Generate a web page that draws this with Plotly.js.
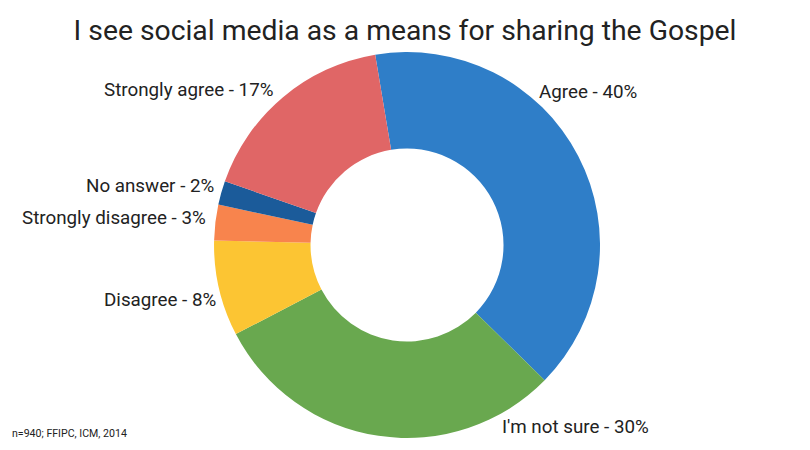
<!DOCTYPE html>
<html>
<head>
<meta charset="utf-8">
<script src="https://cdn.plot.ly/plotly-3.0.1.min.js"></script>
<style>html,body{margin:0;padding:0;background:#fff;}#chart{width:810px;height:450px;}</style>
</head>
<body>
<div id="chart"></div>
<script>
const categories = ["Agree", "I'm not sure", "Disagree", "Strongly disagree", "No answer", "Strongly agree"];
const values = [40, 30, 8, 3, 2, 17];
const colors = ["#2F7EC8", "#69A84F", "#FCC533", "#F8844D", "#1B5B9A", "#E06666"];

// label placement (paper coordinates) and anchors, in category order
const labelX = [0.663, 0.6173, 0.2691, 0.2568, 0.2667, 0.3395];
const labelY = [0.7956, 0.0511, 0.3333, 0.5156, 0.5867, 0.80];
const labelAnchor = ["left", "left", "right", "right", "right", "right"];

const annotations = categories.map((c, i) => ({
  text: c + " - " + values[i] + "%",
  x: labelX[i], y: labelY[i], xref: "paper", yref: "paper",
  xanchor: labelAnchor[i], yanchor: "middle", showarrow: false,
  font: {family: "Roboto", size: 18.8, color: "#222222"}
}));
annotations.push({
  text: "n=940; FFIPC, ICM, 2014",
  x: 10/810, y: 1 - 433/450, xref: "paper", yref: "paper",
  xanchor: "left", yanchor: "middle", showarrow: false,
  font: {family: "Roboto", size: 10.6, color: "#222222"}
});

const data = [{
  type: "pie",
  labels: categories,
  values: values,
  sort: false,
  direction: "clockwise",
  rotation: -9.5,
  hole: 0.5,
  marker: {colors: colors, line: {width: 0}},
  textinfo: "none",
  hoverinfo: "none",
  domain: {x: [0.005, 1], y: [0.0267, 0.8844]},
  showlegend: false
}];

const layout = {
  width: 810, height: 450,
  margin: {l: 0, r: 0, t: 0, b: 0},
  paper_bgcolor: "#ffffff",
  title: {
    text: "I see social media as a means for sharing the Gospel",
    x: 0.5, xanchor: "center", y: 1 - 30/450, yanchor: "middle",
    font: {family: "Roboto", size: 28.3, color: "#222222"}
  },
  annotations: annotations,
  showlegend: false
};

Plotly.newPlot("chart", data, layout, {displayModeBar: false, staticPlot: true});
</script>
</body>
</html>
